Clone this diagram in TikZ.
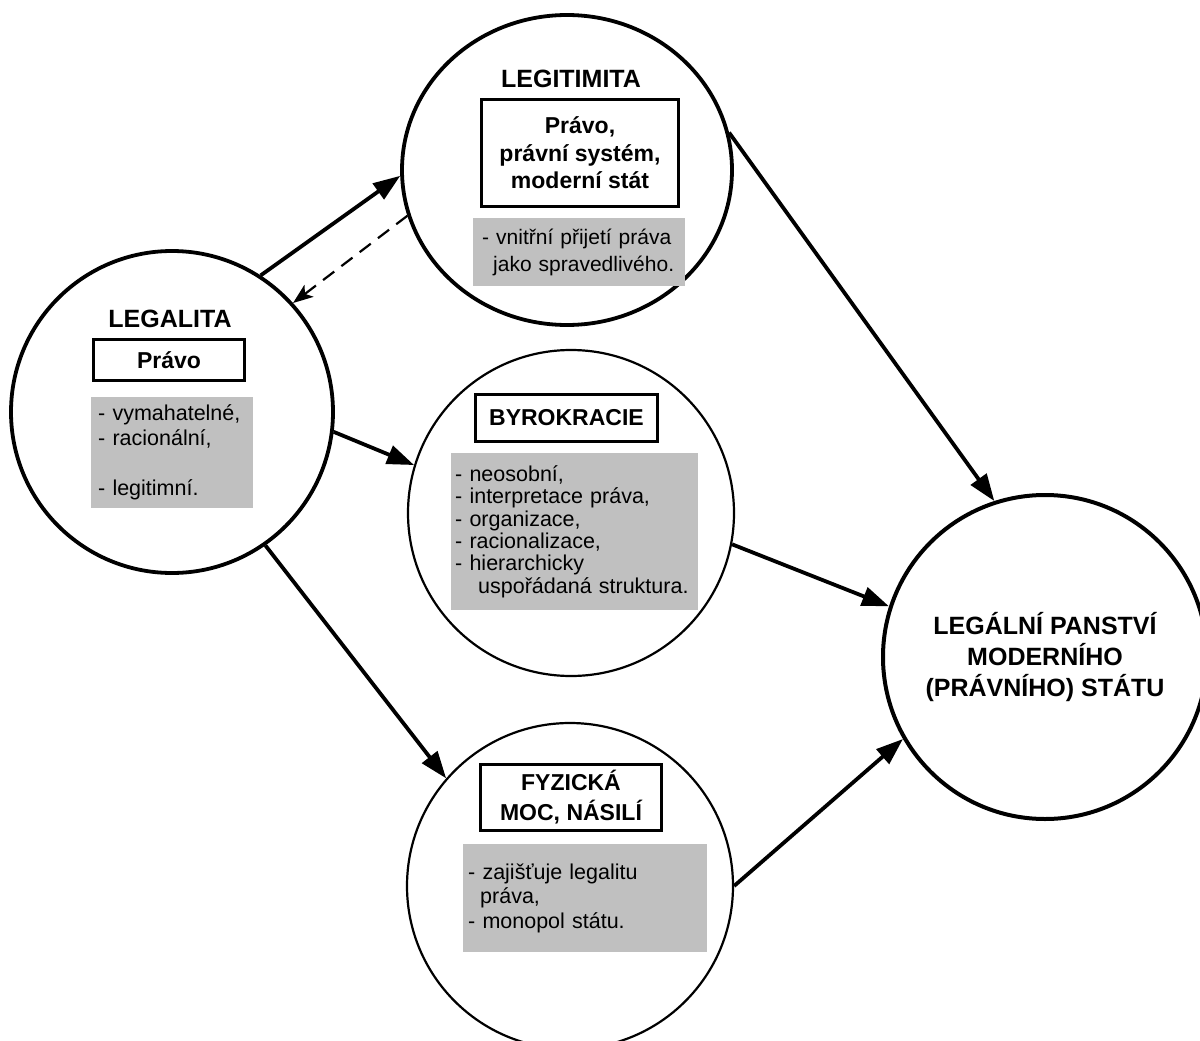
\documentclass[tikz,border=0pt]{standalone}
\usepackage{fontspec}
\setmainfont{Liberation Sans}
\usetikzlibrary{arrows.meta,shapes.geometric}
\definecolor{boxgray}{HTML}{C0C0C0}
\newcommand{\pad}[1]{\hspace*{#1}}
\begin{document}
\begin{tikzpicture}[x=1pt,y=-1pt,
  thickcirc/.style={circle, draw, inner sep=0pt, line width=3.8pt},
  thincirc/.style={circle, draw, inner sep=0pt, line width=2.2pt},
  titletext/.style={font=\fontsize{25}{30}\selectfont\bfseries, inner sep=0pt, anchor=base},
  keybox/.style={draw, line width=3.8pt, fill=white, inner sep=0pt, align=center, font=\fontsize{23}{27.5}\selectfont\bfseries},
  graybox/.style={fill=boxgray, anchor=north west, inner sep=0pt, align=left},
  conn/.style={line width=3.8pt, -{Triangle[length=27pt,width=19pt]}},
  backconn/.style={line width=2.2pt, dash pattern=on 14pt off 9pt, -{Stealth[length=20pt,width=15pt,inset=5pt]}}
]
\useasboundingbox (0,0) rectangle (1200,1041);

% circles
\node[ellipse, draw, inner sep=0pt, line width=3.8pt, minimum width=330pt, minimum height=310pt] (legit) at (567,170) {};
\node[thickcirc, minimum size=322pt] (legal) at (172,412) {};
\node[thincirc, minimum size=326pt] (byrok) at (571,513) {};
\node[thincirc, minimum size=326pt] (fyz) at (570,886) {};
\node[circle, draw, inner sep=0pt, line width=4pt, minimum size=324pt, align=center,
      font=\fontsize{25}{31}\selectfont\bfseries] (panstvi) at (1045,657)
      {LEGÁLNÍ PANSTVÍ\\MODERNÍHO\\(PRÁVNÍHO) STÁTU};

% LEGITIMITA
\node[titletext] (legittitle) at (571,88) {LEGITIMITA};
\node[keybox, minimum width=197pt, minimum height=107pt] (legitbox) at (580,153)
      {Právo,\\právní systém,\\moderní stát};
\node[graybox, minimum height=68pt, text width=212pt,
      font=\fontsize{21}{26.7}\selectfont] (legitgray) at (473,218)
      {\pad{9pt}- vnitřní přijetí práva\\\pad{20pt}jako spravedlivého.};

% LEGALITA
\node[titletext] (legaltitle) at (170,327) {LEGALITA};
\node[keybox, minimum width=151pt, minimum height=41pt] (legalbox) at (169,360) {Právo};
\node[graybox, minimum height=111pt, text width=162pt,
      font=\fontsize{21.5}{25}\selectfont] (legalgray) at (91,397)
      {\pad{7pt}- vymahatelné,\\\pad{7pt}- racionální,\\[25pt]\pad{7pt}- legitimní.};

% BYROKRACIE
\node[keybox, minimum width=182pt, minimum height=47pt] (byrokbox) at (566.5,418) {BYROKRACIE};
\node[graybox, minimum height=157pt, text width=247pt,
      font=\fontsize{21.5}{22.4}\selectfont] (byrokgray) at (451,453)
      {\pad{4pt}- neosobní,\\\pad{4pt}- interpretace práva,\\\pad{4pt}- organizace,\\\pad{4pt}- racionalizace,\\\pad{4pt}- hierarchicky\\\pad{27pt}uspořádaná struktura.};

% FYZICKA MOC
\node[keybox, minimum width=181pt, minimum height=66pt,
      font=\fontsize{23}{30}\selectfont\bfseries] (fyzbox) at (571,797.5) {FYZICKÁ\\MOC, NÁSILÍ};
\node[graybox, minimum height=108pt, text width=244pt,
      font=\fontsize{21.5}{24.5}\selectfont] (fyzgray) at (463,844)
      {\pad{5pt}- zajišťuje legalitu\\\pad{17pt}práva,\\\pad{5pt}- monopol státu.};

% connectors
\draw[conn] (legal.57.5) -- (legit.182.8);
\draw[backconn] (legit.196.7) -- (legal.42.5);
\draw[conn] (legal.-7.1) -- (byrok.163.4);
\draw[conn] (legal.-55) -- (fyz.139.7);
\draw[conn] (legit.13.4) -- (panstvi.108);
\draw[conn] (byrok.-11.5) -- (panstvi.162.3);
\draw[conn] (fyz.0.7) -- (panstvi.210.3);
\end{tikzpicture}
\end{document}
